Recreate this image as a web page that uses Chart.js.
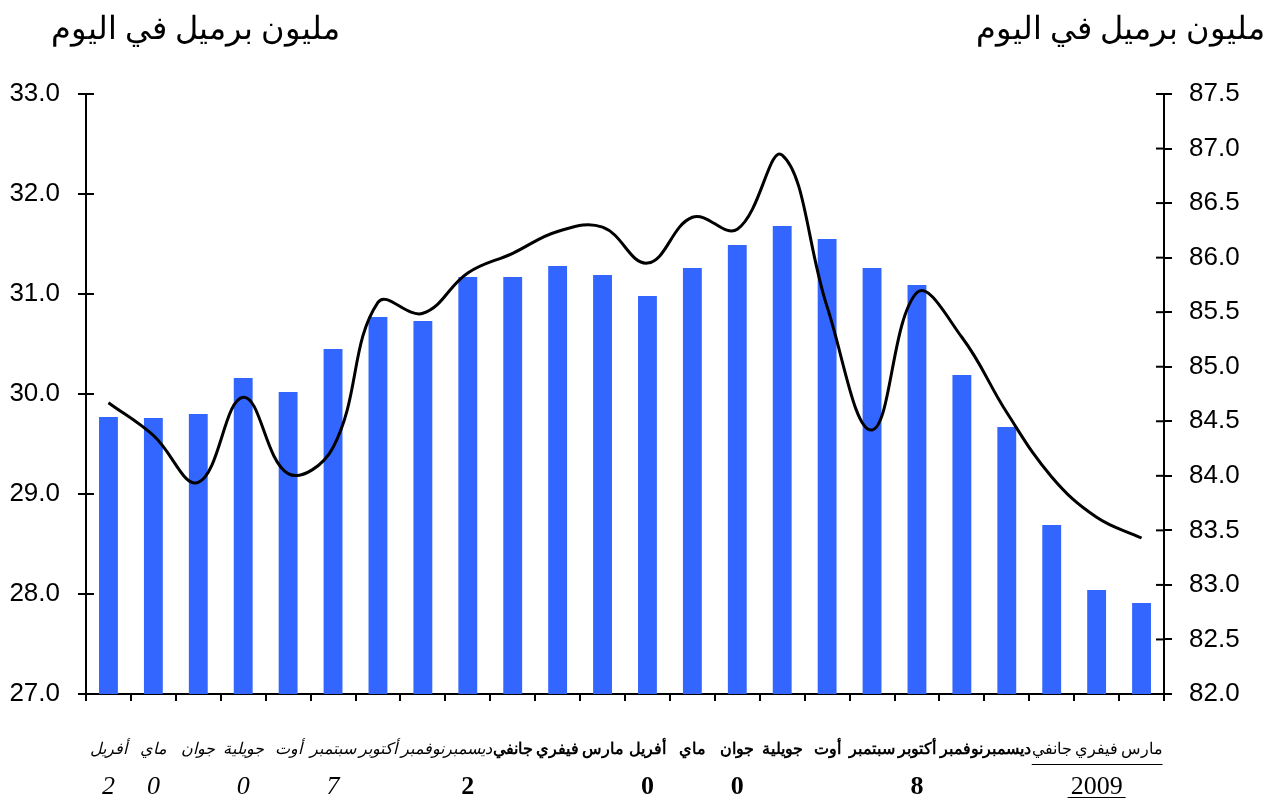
<!DOCTYPE html>
<html><head><meta charset="utf-8">
<script src="https://cdn.jsdelivr.net/npm/chart.js@4.4.1/dist/chart.umd.min.js"></script>
<style>
body{margin:0;background:#fff;}
#wrap{position:relative;width:1269px;height:800px;background:#fff;}
canvas{position:absolute;left:0;top:0;}
.ttl{position:absolute;top:8px;font-family:"Liberation Serif","DejaVu Serif",serif;font-size:32px;direction:rtl;white-space:nowrap;color:#000;line-height:40px;}
</style></head><body>
<div id="wrap">
<canvas id="c" width="1269" height="800"></canvas>
<div class="ttl" id="tl" style="left:51px">مليون برميل في اليوم</div>
<div class="ttl" id="tr" style="right:4px">مليون برميل في اليوم</div>
</div>
<script>
const months = ["أفريل","ماي","جوان","جويلية","أوت","سبتمبر","أكتوبر","نوفمبر","ديسمبر",
  "جانفي","فيفري","مارس","أفريل","ماي","جوان","جويلية","أوت","سبتمبر","أكتوبر","نوفمبر","ديسمبر",
  "جانفي","فيفري","مارس"];
const yearOfMonth = [2007,2007,2007,2007,2007,2007,2007,2007,2007,
  2008,2008,2008,2008,2008,2008,2008,2008,2008,2008,2008,2008,
  2009,2009,2009];
const yearRow = ["2","0","","0","","7","","","2",
  "","","","0","","0","","","","8","","",
  "","2009",""];
const yearRowYear = [2007,2007,2007,2007,2007,2007,2007,2007,2008,
  2008,2008,2008,2008,2008,2008,2008,2008,2008,2008,2008,2008,
  2009,2009,2009];
const supplyBars = [29.77,29.76,29.80,30.16,30.02,30.45,30.77,30.73,31.17,31.17,31.28,31.19,
  30.98,31.26,31.49,31.68,31.55,31.26,31.09,30.19,29.67,28.69,28.04,27.91];
const demandLine = [84.67,84.37,83.94,84.72,84.02,84.26,85.59,85.49,85.86,86.04,86.24,86.28,
  85.95,86.37,86.26,86.94,85.55,84.42,85.68,85.27,84.58,83.99,83.62,83.43];
const leftTicks = {min:27, max:33, step:1};
const rightTicks = {min:82, max:87.5, step:0.5};

function styleFor(yr){
  if(yr===2007) return {style:'italic', weight:'normal'};
  if(yr===2008) return {style:'normal', weight:'bold'};
  return {style:'normal', weight:'normal'};
}
const serif = '"Liberation Serif","DejaVu Serif",serif';
const sans = '"Liberation Sans",Arial,sans-serif';

const extras = {
  id:'extras',
  afterDraw(chart){
    const ctx = chart.ctx, xs = chart.scales.x, ca = chart.chartArea;
    ctx.save();
    ctx.strokeStyle = '#000'; ctx.lineWidth = 2;
    chart.scales.y.ticks.forEach(t=>{
      const p = chart.scales.y.getPixelForValue(t.value);
      ctx.beginPath(); ctx.moveTo(ca.left, p); ctx.lineTo(ca.left+8, p); ctx.stroke();
    });
    chart.scales.y1.ticks.forEach(t=>{
      const p = chart.scales.y1.getPixelForValue(t.value);
      ctx.beginPath(); ctx.moveTo(ca.right, p); ctx.lineTo(ca.right-8, p); ctx.stroke();
    });
    ctx.fillStyle = '#000'; ctx.textAlign = 'center'; ctx.textBaseline = 'middle';
    ctx.lineWidth = 1;
    yearRow.forEach((t,i)=>{
      if(!t) return;
      const s = styleFor(yearRowYear[i]);
      ctx.font = `${s.style} ${s.weight} 26px ${serif}`;
      const x = xs.getPixelForValue(i);
      ctx.fillText(t, x, 787);
      if(yearRowYear[i]===2009){
        const w = ctx.measureText(t).width;
        ctx.beginPath(); ctx.moveTo(x-w/2-3, 797.5); ctx.lineTo(x+w/2+3, 797.5); ctx.stroke();
      }
    });
    ctx.font = `normal normal 16px ${serif}`;
    let first = -1, last = -1;
    yearOfMonth.forEach((y,i)=>{ if(y===2009){ if(first<0) first=i; last=i; } });
    if(first>=0){
      const x1 = xs.getPixelForValue(first) - ctx.measureText(months[first]).width/2;
      const x2 = xs.getPixelForValue(last) + ctx.measureText(months[last]).width/2;
      ctx.beginPath(); ctx.moveTo(x1, 764.5); ctx.lineTo(x2, 764.5); ctx.stroke();
    }
    ctx.restore();
  }
};

new Chart(document.getElementById('c'), {
  data:{
    labels: months,
    datasets:[
      {type:'line', data:demandLine, yAxisID:'y1', borderColor:'#000', borderWidth:3,
       pointRadius:0, tension:0.4, fill:false, order:0},
      {type:'bar', data:supplyBars, yAxisID:'y', backgroundColor:'#3366FF',
       barPercentage:0.42, categoryPercentage:1.0, order:1}
    ]
  },
  options:{
    responsive:false, animation:false, devicePixelRatio:1,
    layout:{padding:{top:94, left:0, right:0, bottom:0}},
    plugins:{legend:{display:false}, tooltip:{enabled:false}, title:{display:false}},
    scales:{
      x:{
        offset:true,
        border:{display:true, color:'#000', width:2},
        grid:{display:true, offset:true, drawOnChartArea:false, drawTicks:true, tickLength:7, color:'#000', lineWidth:2},
        ticks:{autoSkip:false, maxRotation:0, minRotation:0, padding:39, color:'#000',
          font:(c)=>{const s=styleFor(yearOfMonth[c.index]); return {family:serif, size:16, style:s.style, weight:s.weight};}},
        afterFit(s){ s.height = 106; }
      },
      y:{
        position:'left', min:leftTicks.min, max:leftTicks.max,
        border:{display:true, color:'#000', width:2},
        grid:{drawOnChartArea:false, tickLength:8, color:'#000', lineWidth:2},
        ticks:{stepSize:leftTicks.step, padding:18, color:'#000', font:{family:sans, size:26},
          callback:(v)=>Number(v).toFixed(1)},
        afterFit(s){ s.width = 86; }
      },
      y1:{
        position:'right', min:rightTicks.min, max:rightTicks.max,
        border:{display:true, color:'#000', width:2},
        grid:{drawOnChartArea:false, tickLength:8, color:'#000', lineWidth:2},
        ticks:{stepSize:rightTicks.step, padding:17, color:'#000', font:{family:sans, size:26},
          callback:(v)=>Number(v).toFixed(1)},
        afterFit(s){ s.width = 105; }
      }
    }
  },
  plugins:[extras]
});
</script>
</body></html>
